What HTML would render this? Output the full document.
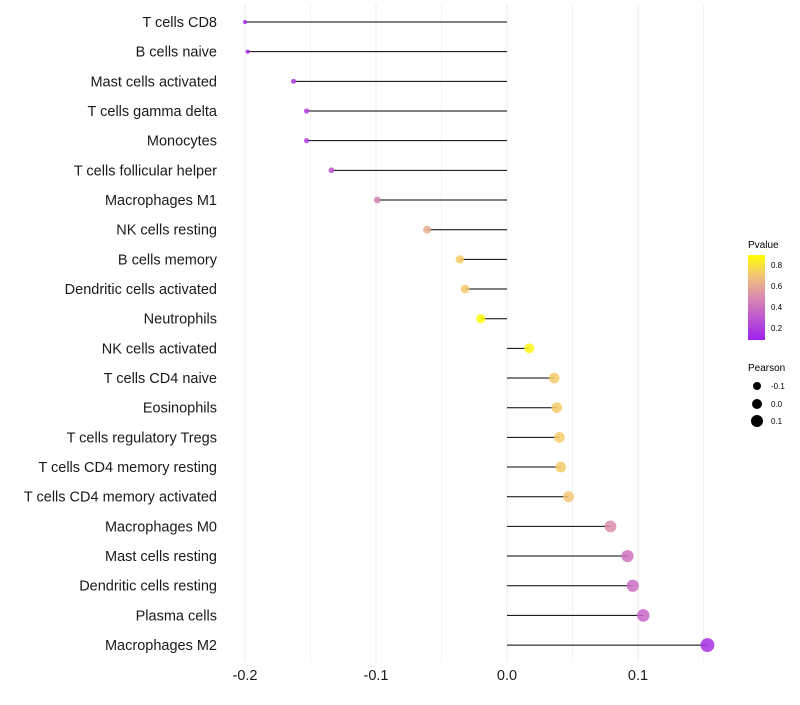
<!DOCTYPE html>
<html><head><meta charset="utf-8"><style>
body{margin:0;background:#fff;font-family:"Liberation Sans",sans-serif;}
</style></head><body>
<svg id="chart" width="800" height="700" xmlns="http://www.w3.org/2000/svg">
<defs><linearGradient id="pg" x1="0" y1="1" x2="0" y2="0">
<stop offset="0" stop-color="#A020F0"/><stop offset="0.5" stop-color="#D98AB0"/><stop offset="0.75" stop-color="#F2C27A"/><stop offset="1" stop-color="#FFFF00"/></linearGradient></defs>
<g id="grid"></g><g id="marks"></g><g id="labels"></g><g id="xaxis"></g>
<g>
<text x="748" y="248" font-size="10">Pvalue</text>
<rect x="748" y="255" width="17" height="85" fill="url(#pg)"/>
<text x="771" y="268" font-size="8">0.8</text><text x="771" y="289" font-size="8">0.6</text>
<text x="771" y="310" font-size="8">0.4</text><text x="771" y="331" font-size="8">0.2</text>
</g>
<g>
<text x="748" y="371" font-size="10">Pearson</text>
<circle cx="757" cy="386" r="4"/><text x="771" y="389" font-size="8">-0.1</text>
<circle cx="757" cy="404" r="5"/><text x="771" y="407" font-size="8">0.0</text>
<circle cx="757" cy="421" r="6"/><text x="771" y="424" font-size="8">0.1</text>
</g>
</svg>
<script>
const categories=["T cells CD8","B cells naive","Mast cells activated","T cells gamma delta","Monocytes","T cells follicular helper","Macrophages M1","NK cells resting","B cells memory","Dendritic cells activated","Neutrophils","NK cells activated","T cells CD4 naive","Eosinophils","T cells regulatory  Tregs ","T cells CD4 memory resting","T cells CD4 memory activated","Macrophages M0","Mast cells resting","Dendritic cells resting","Plasma cells","Macrophages M2"];
const pearson=[-0.200,-0.198,-0.163,-0.153,-0.153,-0.134,-0.099,-0.061,-0.036,-0.032,-0.020,0.017,0.036,0.038,0.040,0.041,0.047,0.079,0.092,0.096,0.104,0.153];
const pvalue=[0.10,0.10,0.20,0.20,0.20,0.30,0.45,0.62,0.72,0.72,0.88,0.85,0.72,0.72,0.72,0.72,0.70,0.50,0.40,0.38,0.35,0.15];
const xTicks=[-0.2,-0.1,0.0,0.1];
const xTickLabels=["-0.2","-0.1","0.0","0.1"];
const NS="http://www.w3.org/2000/svg";
const x=v=>507+v*1310;
const y=i=>22+i*29.67;
function color(p){
 const stops=[[0.09,[160,32,240]],[0.49,[217,138,176]],[0.69,[242,194,122]],[0.885,[255,255,0]]];
 if(p<=stops[0][0])return `rgb(${stops[0][1]})`;
 for(let k=1;k<stops.length;k++){if(p<=stops[k][0]){const t=(p-stops[k-1][0])/(stops[k][0]-stops[k-1][0]);const a=stops[k-1][1],b=stops[k][1];return `rgb(${a.map((c,j)=>Math.round(c+(b[j]-c)*t)).join(",")})`;}}
 return "rgb(255,255,0)";
}
const r=v=>4.8+14*v;
function mk(t,at,parent){const e=document.createElementNS(NS,t);for(const k in at)e.setAttribute(k,at[k]);parent.appendChild(e);return e;}
const grid=document.getElementById('grid'),marks=document.getElementById('marks'),labels=document.getElementById('labels'),xa=document.getElementById('xaxis');
[-0.2,-0.15,-0.1,-0.05,0,0.05,0.1,0.15].forEach(v=>{
 const l=mk('line',{x1:x(v),x2:x(v),y1:5,y2:662,stroke:'#ebebeb','stroke-width':Number.isInteger(Math.round(v*100)/10)?1:0.6},grid);
 
 
});
categories.forEach((c,i)=>{
 const t=mk('text',{x:217,y:y(i)+5,'text-anchor':'end','font-size':14.5,fill:'#1a1a1a'},labels);t.textContent=c;
 
 
 const ln=mk('line',{x1:x(0),x2:x(pearson[i]),y1:y(i),y2:y(i),stroke:'#000','stroke-width':1},marks);
 
 
 const d=mk('circle',{cx:x(pearson[i]),cy:y(i),r:Math.max(1.8,r(pearson[i])),fill:color(pvalue[i]),'fill-opacity':0.85},marks);
 
 
});
xTicks.forEach((v,i)=>{
 const t=mk('text',{x:x(v),y:680,'text-anchor':'middle','font-size':14.5,fill:'#1a1a1a'},xa);t.textContent=xTickLabels[i];
 
 
});
</script>
</body></html>
